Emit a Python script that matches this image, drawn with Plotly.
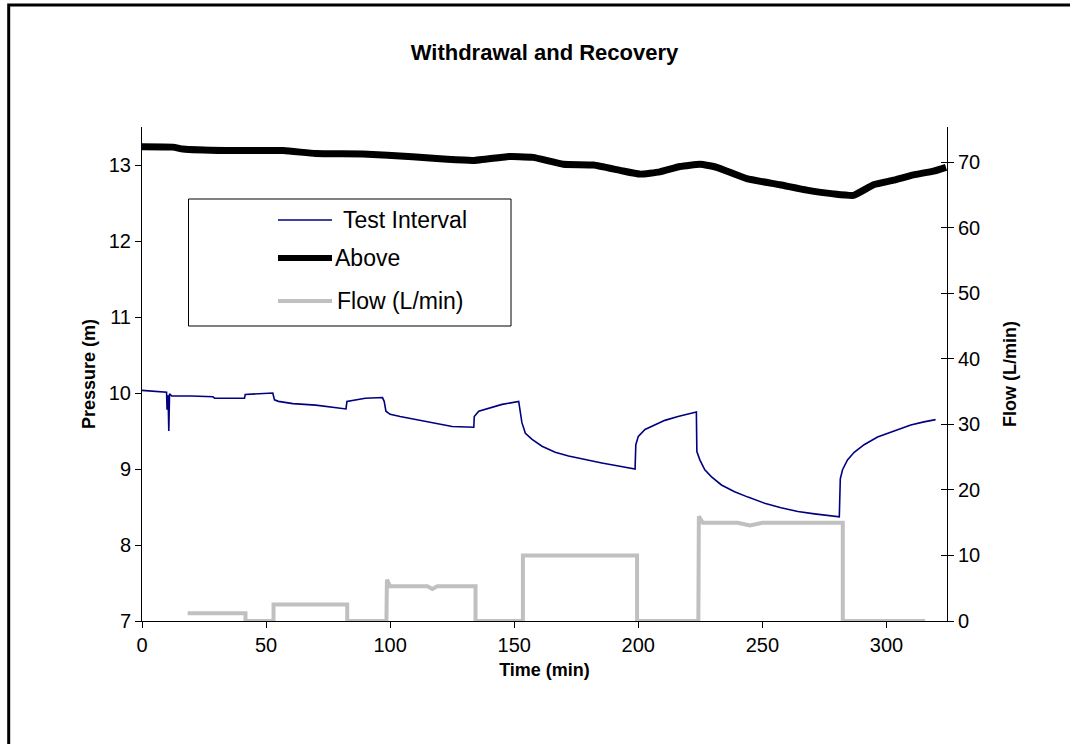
import plotly.graph_objects as go

# ---- data -------------------------------------------------------------
# Test interval pressure (m) vs time (min)
test_time = [0, 8.6, 9.9, 10.1, 10.5, 10.8, 11.1, 12, 20, 28.6, 29.3, 41.3, 41.6,
             52.7, 53.4, 55, 60.8, 70, 75.5, 82.2, 82.6, 90, 96.9, 97.6, 98.3, 100,
             104, 110, 116, 119.7, 125, 133.7, 133.9, 135.7, 139.8, 145.1, 151.8,
             153.1, 154.5, 157.2, 161.2, 166.5, 171.9, 178.6, 185.3, 192, 198.7,
             199.0, 200, 202.7, 205.3, 210.7, 216, 223.4, 223.6, 224.8, 226.8, 229.4,
             233.5, 238.8, 244.2, 250.9, 257.5, 264.3, 271, 281, 281.4, 282.3, 284.3,
             287, 291, 296.4, 303.1, 309.8, 315.1, 319.8]
test_pressure = [10.035, 10.01, 10.01, 9.78, 9.97, 9.50, 9.99, 9.96, 9.96, 9.95, 9.93,
                 9.93, 9.98, 10.0, 9.91, 9.89, 9.86, 9.84, 9.82, 9.79, 9.89, 9.93,
                 9.94, 9.89, 9.76, 9.72, 9.69, 9.65, 9.62, 9.59, 9.56, 9.55, 9.69,
                 9.76, 9.80, 9.85, 9.89, 9.61, 9.47, 9.39, 9.30, 9.22, 9.17, 9.12,
                 9.08, 9.04, 9.00, 9.32, 9.43, 9.52, 9.56, 9.64, 9.69, 9.75, 9.23,
                 9.12, 8.99, 8.90, 8.79, 8.70, 8.63, 8.55, 8.49, 8.44, 8.41, 8.37,
                 8.87, 8.99, 9.12, 9.22, 9.32, 9.42, 9.50, 9.58, 9.62, 9.65]

# Pressure above the packer (m)
above_time = [0, 12.5, 16.5, 34, 57, 70, 89, 109, 123, 133.5, 147, 152, 157.7, 169.8,
              182, 192.6, 200.7, 208.7, 216.8, 224.9, 231.6, 243.7, 257.1, 267.9,
              278.6, 286.7, 294.8, 302.8, 310.9, 319, 324]
above_pressure = [13.24, 13.235, 13.21, 13.19, 13.19, 13.15, 13.145, 13.11, 13.075,
                  13.06, 13.11, 13.11, 13.10, 13.01, 13.0, 12.93, 12.88, 12.91, 12.98,
                  13.01, 12.97, 12.82, 12.74, 12.67, 12.62, 12.60, 12.74, 12.80,
                  12.87, 12.92, 12.97]

# Withdrawal rate (L/min)
flow_time = [18.4, 41.7, 41.7, 53, 53, 82.7, 82.7, 98.5, 98.7, 100, 115, 117, 119,
             134.4, 134.4, 153.5, 153.5, 199.5, 199.5, 224.2, 224.4, 226, 240, 245,
             250, 282.4, 282.4, 315.6]
flow_rate = [1.2, 1.2, 0, 0, 2.5, 2.5, 0, 0, 6.3, 5.3, 5.3, 4.9, 5.3, 5.3, 0, 0, 10.0,
             10.0, 0, 0, 16.0, 15.0, 15.0, 14.6, 15.0, 15.0, 0, 0]

series_names = ["Test Interval", "Above", "Flow (L/min)"]

# ---- styling ----------------------------------------------------------
FONT = "Liberation Sans, Arial, sans-serif"
NAVY = "#000080"
GREY = "#c0c0c0"

W, H = 1073, 744
ML, MR, MT, MB = 142, 126, 127, 123
PW, PH = W - ML - MR, H - MT - MB


def px_x(px):
    return (px - ML) / PW


def px_y(py):
    return (H - MB - py) / PH


fig = go.Figure()

fig.add_trace(go.Scatter(x=flow_time, y=flow_rate, name=series_names[2], yaxis="y2",
                         mode="lines", line=dict(color=GREY, width=4)))
fig.add_trace(go.Scatter(x=above_time, y=above_pressure, name=series_names[1],
                         mode="lines", line=dict(color="black", width=7, shape="spline",
                                                 smoothing=0.4)))
fig.add_trace(go.Scatter(x=test_time, y=test_pressure, name=series_names[0],
                         mode="lines", line=dict(color=NAVY, width=1.6)))

tickfont = dict(family=FONT, size=20, color="black")
titlefont = dict(family=FONT, size=18, color="black", weight=700)

fig.update_layout(
    width=W, height=H,
    margin=dict(l=ML, r=MR, t=MT, b=MB, pad=0),
    paper_bgcolor="white", plot_bgcolor="white",
    showlegend=False,
    title=dict(text="Withdrawal and Recovery", x=0.5, xref="paper", xanchor="center",
               y=1 - 52 / H, yref="container", yanchor="middle",
               font=dict(family=FONT, size=22, color="black", weight=700)),
    xaxis=dict(range=[0, 324.4], dtick=50, tick0=0, showgrid=False, zeroline=False,
               showline=True, linecolor="black", linewidth=1, ticks="outside",
               ticklen=6, tickcolor="black", tickfont=tickfont,
               title=dict(text="Time (min)", font=titlefont, standoff=8)),
    yaxis=dict(range=[7, 13.5], dtick=1, tick0=7, showgrid=False, zeroline=False,
               showline=True, linecolor="black", linewidth=1, ticks="outside",
               ticklen=6, tickcolor="black", tickfont=tickfont,
               title=dict(text="Pressure (m)", font=titlefont, standoff=8)),
    yaxis2=dict(range=[0, 75.4], dtick=10, tick0=0, overlaying="y", side="right",
                showgrid=False, zeroline=False, showline=True, linecolor="black",
                linewidth=1, ticks="outside", ticklen=6, tickcolor="black",
                tickfont=tickfont,
                title=dict(text="Flow (L/min)", font=titlefont, standoff=24)),
    yaxis3=dict(range=[0, 75.4], dtick=10, tick0=0, overlaying="y", side="right",
                showgrid=False, zeroline=False, showline=False, ticks="inside",
                ticklen=6, tickcolor="black", showticklabels=False),
)

# invisible trace so the inner tick marks of the flow axis are drawn
fig.add_trace(go.Scatter(x=[None], y=[None], yaxis="y3", showlegend=False,
                         hoverinfo="skip"))

shapes = []
# outer chart frame: left and top edges as one open path
fx, fy = px_x(8.7), px_y(5)
shapes.append(dict(type="path", xref="paper", yref="paper",
                   path=f"M {fx},{px_y(744)} L {fx},{fy} L {px_x(1070)},{fy}",
                   line=dict(color="black", width=3), layer="above"))
# legend box
shapes.append(dict(type="rect", xref="paper", yref="paper",
                   x0=px_x(188.5), x1=px_x(511), y0=px_y(199), y1=px_y(326),
                   line=dict(color="black", width=1), fillcolor="white", layer="above"))
legend_rows = [
    (series_names[0], dict(color=NAVY, width=1.5), 220, 341),
    (series_names[1], dict(color="black", width=6), 258, 333),
    (series_names[2], dict(color=GREY, width=4), 301, 335),
]
annotations = []
for name, ln, yrow, xtext in legend_rows:
    shapes.append(dict(type="line", xref="paper", yref="paper",
                       x0=px_x(278), x1=px_x(332), y0=px_y(yrow), y1=px_y(yrow),
                       line=ln, layer="above"))
    annotations.append(dict(text=name, xref="paper", yref="paper", x=px_x(xtext),
                            y=px_y(yrow), xanchor="left", yanchor="middle",
                            showarrow=False,
                            font=dict(family=FONT, size=23, color="black")))

fig.update_layout(shapes=shapes, annotations=annotations)

fig.write_html("out.html")
